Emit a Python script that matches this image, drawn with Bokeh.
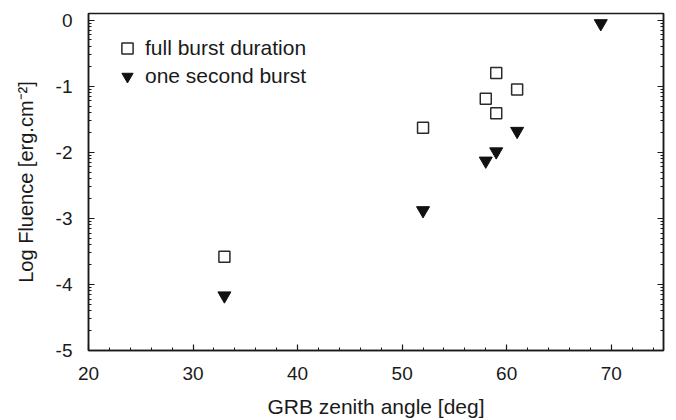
import math
from bokeh.plotting import figure
from bokeh.models import (Range1d, LinearAxis, FixedTicker, Legend, LegendItem)
from bokeh.embed import file_html
from bokeh.resources import INLINE

# ---- data ----
angle_full = [33, 52, 58, 59, 59, 61]
fluence_full = [-3.58, -1.63, -1.19, -0.80, -1.41, -1.05]

angle_one = [33, 52, 58, 59, 61, 69]
fluence_one = [-4.17, -2.88, -2.13, -1.99, -1.68, -0.05]

x_ticks = [20, 30, 40, 50, 60, 70]
x_minor = [22, 24, 26, 28, 32, 34, 36, 38, 42, 44, 46, 48, 52, 54, 56, 58,
           62, 64, 66, 68, 72, 74]
y_ticks = [-5, -4, -3, -2, -1, 0]
y_tick_labels = ["-5", "-4", "-3", "-2", "-1", "0"]
y_minor = [d + math.log10(k) for d in [-5, -4, -3, -2, -1] for k in range(2, 10)]

FONT = "Liberation Sans"
TXT = "#1a1a1a"

p = figure(width=676, height=420, output_backend="svg", toolbar_location=None,
           x_range=Range1d(20, 75), y_range=Range1d(-5, 0.1),
           min_border_left=88, min_border_right=13, min_border_top=13,
           min_border_bottom=70)
p.xgrid.visible = False
p.ygrid.visible = False
p.outline_line_color = "#1a1a1a"
p.outline_line_width = 1.5
p.background_fill_color = "white"
p.border_fill_color = "white"

def style_axis(ax, ticks, minor):
    ax.ticker = FixedTicker(ticks=ticks, minor_ticks=minor)
    ax.axis_line_color = "#1a1a1a"
    ax.axis_line_width = 1.5
    ax.major_tick_line_color = "#1a1a1a"
    ax.minor_tick_line_color = "#1a1a1a"
    ax.major_tick_line_width = 1.2
    ax.minor_tick_line_width = 1
    ax.major_tick_in = 6
    ax.major_tick_out = 0
    ax.minor_tick_in = 3
    ax.minor_tick_out = 0
    ax.major_label_text_font = FONT
    ax.major_label_text_font_size = "19px"
    ax.major_label_text_color = TXT
    ax.axis_label_text_font = FONT
    ax.axis_label_text_font_size = "21px"
    ax.axis_label_text_font_style = "normal"
    ax.axis_label_text_color = TXT

xa = p.xaxis[0]
style_axis(xa, x_ticks, x_minor)
xa.axis_label = "GRB zenith angle [deg]"
xa.major_label_standoff = 16
xa.axis_label_standoff = 12

ya = p.yaxis[0]
style_axis(ya, y_ticks, y_minor)
ya.major_label_overrides = dict(zip(y_ticks, y_tick_labels))
ya.axis_label = "Log Fluence [erg.cm\u207b\u00b2]"
ya.axis_label_text_font_size = "20px"
ya.major_label_standoff = 16
ya.axis_label_standoff = 16

ra = LinearAxis()
style_axis(ra, y_ticks, y_minor)
ra.major_label_overrides = {t: "" for t in y_ticks}
ra.major_label_standoff = 0
p.add_layout(ra, "right")

r_full = p.scatter(angle_full, fluence_full, marker="square", size=11,
                   fill_color="white", line_color="#2a2a2a", line_width=1.5)
r_one = p.scatter(angle_one, fluence_one, marker="inverted_triangle", size=13,
                  fill_color="#111111", line_color="#111111", line_width=1)

legend = Legend(items=[LegendItem(label="full burst duration", renderers=[r_full]),
                       LegendItem(label="one second burst", renderers=[r_one])],
                location="top_left", margin=21, padding=0, spacing=0,
                glyph_width=36, glyph_height=28, label_height=28, label_standoff=0,
                border_line_color=None, background_fill_alpha=0,
                label_text_font=FONT, label_text_font_size="21px",
                label_text_color=TXT)
p.add_layout(legend)

open("out.html", "w").write(file_html(p, INLINE))
